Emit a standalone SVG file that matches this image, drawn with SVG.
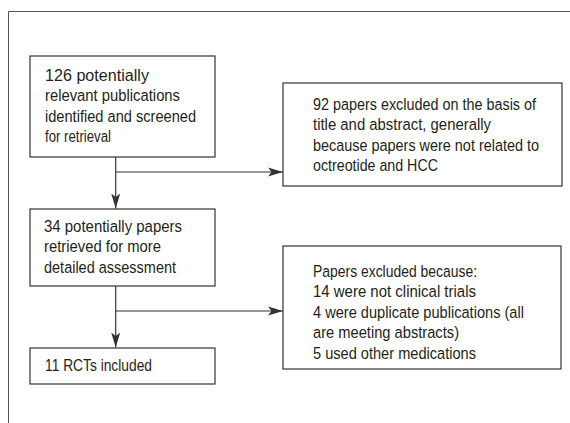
<svg xmlns="http://www.w3.org/2000/svg" width="570" height="423" viewBox="0 0 570 423">
<style>
.frame{fill:none;stroke:#555;stroke-width:1}
.box{fill:#fff;stroke:#333;stroke-width:1.2}
.conn{fill:none;stroke:#333;stroke-width:1.2}
text{font-family:"Liberation Sans",Arial,sans-serif;font-size:17px;fill:#231f20}
</style>
<defs>
<marker id="ah" markerUnits="userSpaceOnUse" markerWidth="16" markerHeight="10" refX="15" refY="5" orient="auto">
<path d="M0,0.5 L15,5 L0,9.5 L3.5,5 Z" fill="#333"/>
</marker>
</defs>
<path class="frame" d="M8.5,423 V11.5 H570"/>
<g id="connectors">
<line class="conn" x1="115.7" y1="157" x2="115.7" y2="208.5" marker-end="url(#ah)"/>
<line class="conn" x1="115.7" y1="172" x2="283" y2="172" marker-end="url(#ah)"/>
<line class="conn" x1="115.7" y1="286" x2="115.7" y2="347.5" marker-end="url(#ah)"/>
<line class="conn" x1="115.7" y1="311" x2="283" y2="311" marker-end="url(#ah)"/>
</g>
<g id="n1">
<rect class="box" x="30" y="56" width="185" height="101"/>
<g transform="translate(45,0) scale(0.86,1)">
<text x="0" y="81" textLength="120.9" lengthAdjust="spacingAndGlyphs">126 potentially</text>
<text x="0" y="101.4" textLength="157" lengthAdjust="spacingAndGlyphs">relevant publications</text>
<text x="0" y="121.8" textLength="175.6" lengthAdjust="spacingAndGlyphs">identified and screened</text>
<text x="0" y="142.2" textLength="76.7" lengthAdjust="spacingAndGlyphs">for retrieval</text>
</g>
</g>
<g id="n2">
<rect class="box" x="283" y="83" width="279" height="103"/>
<g transform="translate(313,0) scale(0.86,1)">
<text x="0" y="110" textLength="259.3" lengthAdjust="spacingAndGlyphs">92 papers excluded on the basis of</text>
<text x="0" y="130.4" textLength="207" lengthAdjust="spacingAndGlyphs">title and abstract, generally</text>
<text x="0" y="150.8" textLength="262.8" lengthAdjust="spacingAndGlyphs">because papers were not related to</text>
<text x="0" y="171.2" textLength="145.3" lengthAdjust="spacingAndGlyphs">octreotide and HCC</text>
</g>
</g>
<g id="n3">
<rect class="box" x="30" y="209" width="185" height="77"/>
<g transform="translate(44,0) scale(0.86,1)">
<text x="0" y="232" textLength="160.5" lengthAdjust="spacingAndGlyphs">34 potentially papers</text>
<text x="0" y="252.4" textLength="136" lengthAdjust="spacingAndGlyphs">retrieved for more</text>
<text x="0" y="272.8" textLength="153.5" lengthAdjust="spacingAndGlyphs">detailed assessment</text>
</g>
</g>
<g id="n4">
<rect class="box" x="283" y="246" width="278" height="123"/>
<g transform="translate(313,0) scale(0.86,1)">
<text x="0" y="277" textLength="190.7" lengthAdjust="spacingAndGlyphs">Papers excluded because:</text>
<text x="0" y="297.4" textLength="189.5" lengthAdjust="spacingAndGlyphs">14 were not clinical trials</text>
<text x="0" y="317.8" textLength="245.3" lengthAdjust="spacingAndGlyphs">4 were duplicate publications (all</text>
<text x="0" y="338.2" textLength="169.8" lengthAdjust="spacingAndGlyphs">are meeting abstracts)</text>
<text x="0" y="358.6" textLength="189.5" lengthAdjust="spacingAndGlyphs">5 used other medications</text>
</g>
</g>
<g id="n5">
<rect class="box" x="30" y="348" width="185" height="36"/>
<g transform="translate(45,0) scale(0.86,1)">
<text x="0" y="371" textLength="124.4" lengthAdjust="spacingAndGlyphs">11 RCTs included</text>
</g>
</g>
</svg>
